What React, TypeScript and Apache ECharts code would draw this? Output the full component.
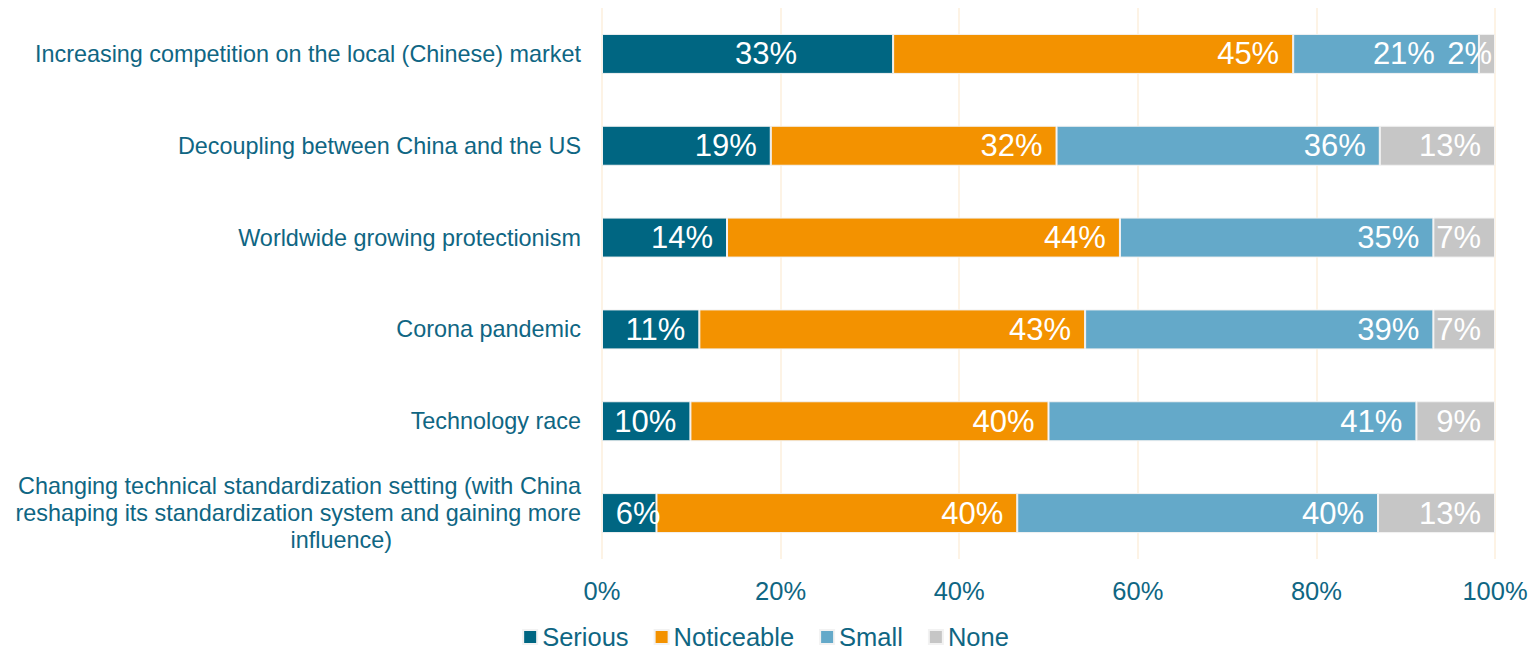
import React, { useEffect, useRef } from "react";
import * as echarts from "echarts";

const categories = [
  "Increasing competition on the local (Chinese) market",
  "Decoupling between China and the US",
  "Worldwide growing protectionism",
  "Corona pandemic",
  "Technology race",
  "Changing technical standardization setting (with China\nreshaping its standardization system and gaining more\ninfluence)",
];

const serious = [32.6, 18.9, 14.0, 10.9, 9.9, 6.1];
const noticeable = [44.8, 32.0, 44.0, 43.2, 40.1, 40.4];
const small = [20.8, 36.2, 35.1, 39.0, 41.2, 40.4];
const none = [1.8, 12.9, 6.9, 6.9, 8.8, 13.1];

const seriesNames = ["Serious", "Noticeable", "Small", "None"];
const seriesColors = ["#006682", "#f39200", "#64a9c9", "#c6c6c6"];
const xTicks = [0, 20, 40, 60, 80, 100];

// manual label shifts (series index -> category index -> [dx, dy]), as in the original
const labelShift: Record<number, Record<number, number[]>> = {
  0: { 0: [-82, 0], 5: [18, 0] },
  2: { 0: [-30, 0] },
  3: { 0: [11, 0] },
};

const TEAL = "#0f6683";
const FONT = "Liberation Sans, Arial, sans-serif";

export default function App() {
  const ref = useRef<HTMLDivElement>(null);

  useEffect(() => {
    if (!ref.current) return;
    const chart = echarts.init(ref.current, undefined, { renderer: "svg" });
    const data = [serious, noticeable, small, none];
    chart.setOption({
      animation: false,
      textStyle: { fontFamily: FONT },
      grid: { left: 602, right: 36, top: 8, bottom: 92, containLabel: false },
      legend: {
        data: seriesNames,
        top: 624,
        left: "center",
        padding: 0,
        icon: "rect",
        itemWidth: 14,
        itemHeight: 14,
        itemGap: 25,
        textStyle: { color: TEAL, fontSize: 25.5, fontFamily: FONT },
      },
      xAxis: {
        type: "value",
        min: xTicks[0],
        max: xTicks[xTicks.length - 1],
        interval: 20,
        axisLine: { show: false },
        axisTick: { show: false },
        axisLabel: {
          color: TEAL,
          fontSize: 25.5,
          margin: 19,
          formatter: (v: number) => `${v}%`,
        },
        splitLine: { show: true, lineStyle: { color: "#fcefdc", width: 1.5 } },
      },
      yAxis: {
        type: "category",
        inverse: true,
        data: categories,
        axisLine: { show: false },
        axisTick: { show: false },
        axisLabel: {
          color: TEAL,
          fontSize: 23.4,
          margin: 21,
          lineHeight: 27,
          align: "right",
          formatter: (v: string) => {
            const parts = v.split("\n");
            if (parts.length === 3) {
              return `${parts[0]}\n${parts[1]}\n{last|${parts[2]}}`;
            }
            return v;
          },
          rich: {
            last: {
              color: TEAL,
              fontSize: 23.4,
              lineHeight: 27,
              padding: [0, 189, 0, 0],
            },
          },
        },
      },
      series: seriesNames.map((name, i) => ({
        name,
        type: "bar",
        stack: "total",
        barWidth: 40,
        data: data[i].map((v, j) => {
          const shift = labelShift[i] && labelShift[i][j];
          return shift ? { value: v, label: { offset: shift } } : v;
        }),
        itemStyle: { color: seriesColors[i], borderColor: "#f2f2f2", borderWidth: 1 },
        label: {
          show: true,
          position: "insideRight",
          distance: 14,
          color: "#ffffff",
          fontSize: 31,
          fontFamily: FONT,
          formatter: (p: any) => `${Math.round(p.value)}%`,
        },
      })),
    });
    return () => chart.dispose();
  }, []);

  return (
    <div
      ref={ref}
      style={{ position: "fixed", left: 0, top: 0, width: 1531, height: 651, background: "#fff" }}
    />
  );
}
